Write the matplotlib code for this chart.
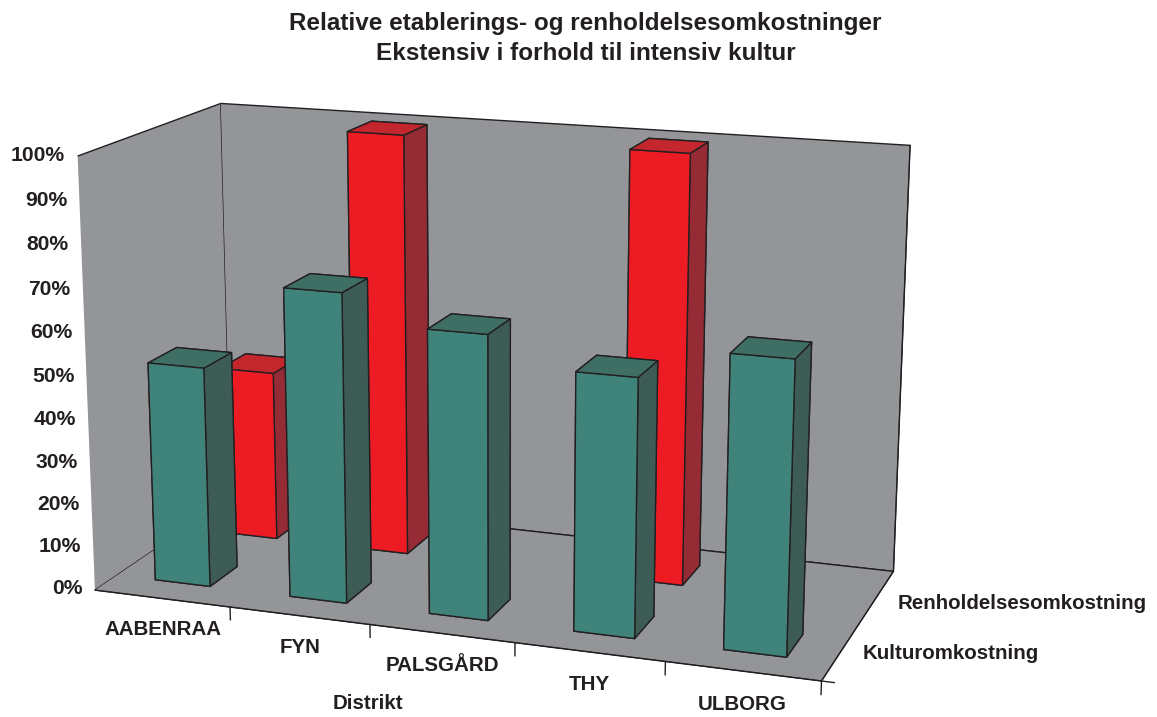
import matplotlib
matplotlib.use('Agg')
import matplotlib.pyplot as plt

plt.rcParams['font.family'] = ['Liberation Sans', 'DejaVu Sans']

districts = ['AABENRAA', 'FYN', 'PALSGÅRD', 'THY', 'ULBORG']
kultur = [51.5, 71.5, 65, 58.5, 65.5]
renhold = [41, 100, 0, 100, 0]
z_ticks = [0, 10, 20, 30, 40, 50, 60, 70, 80, 90, 100]

teal = ['#40837a', '#3f6f64', '#40837a', '#40837a', '#40837a', '#3d5c56']
red = ['#ed1c24', '#c4262e', '#ed1c24', '#ed1c24', '#ed1c24', '#942b35']
wall = '#939598'
ink = '#231f20'

fig = plt.figure(figsize=(11.57, 7.17), dpi=100)
ax = fig.add_axes([-0.058, -0.04, 0.96, 1.02], projection='3d')
ax.set_proj_type('persp', focal_length=0.7)
ax.view_init(elev=15, azim=-70.5)
ax.set_box_aspect((5.05, 2.2, 3.0), zoom=1.235)
ax.set_xlim(0, 5)
ax.set_ylim(0, 2)
ax.set_zlim(0, 100)
ax.patch.set_alpha(0)
ax.grid(False)
ax.set_xticks([])
ax.set_yticks([])
ax.set_zticks([])
for a in (ax.xaxis, ax.yaxis, ax.zaxis):
    a.set_pane_color(wall)
    a.pane.set_edgecolor(ink)
    a.pane.set_linewidth(1)
    a.line.set_color(ink)

# bars, back row first
for i in range(5):
    if renhold[i] > 0:
        ax.bar3d(i + 0.3, 1.3, 0, 0.41, 0.4, renhold[i], color=red, shade=False,
                 edgecolor=ink, linewidth=1)
for i in range(5):
    ax.bar3d(i + 0.29, 0.3, 0, 0.41, 0.4, kultur[i], color=teal, shade=False,
             edgecolor=ink, linewidth=1)

# axis ticks and labels
for t in z_ticks:
    ax.plot([0, -0.08], [0, 0], [t, t], color=ink, lw=1)
    ax.text(-0.09, 0, t, str(t) + '%', ha='right', va='center', fontsize=15.2, fontweight='bold', color=ink)
for i in range(6):
    ax.plot([i, i], [0, 0], [0, -3], color=ink, lw=1)
for i in range(5):
    ax.text(i + 0.5, 0, -7.5, districts[i], ha='center', va='center', fontsize=14.8, fontweight='bold', color=ink)
ax.text(1.98, 0, -18.5, 'Distrikt', ha='center', va='center', fontsize=14.8, fontweight='bold', color=ink)
for j in range(3):
    ax.plot([5, 5.08], [j, j], [0, 0], color=ink, lw=1)
ax.text(5.14, 0.5, 0, 'Kulturomkostning', ha='left', va='center', fontsize=14.8, fontweight='bold', color=ink)
ax.text(5.14, 1.5, -1, 'Renholdelsesomkostning', ha='left', va='center', fontsize=14.8, fontweight='bold', color=ink)

fig.text(0.506, 0.967, 'Relative etablerings- og renholdelsesomkostninger', ha='center', va='center',
         fontsize=17.5, fontweight='bold', color=ink)
fig.text(0.506, 0.925, 'Ekstensiv i forhold til intensiv kultur', ha='center', va='center',
         fontsize=17.5, fontweight='bold', color=ink)

fig.savefig('out.png', dpi=100)
